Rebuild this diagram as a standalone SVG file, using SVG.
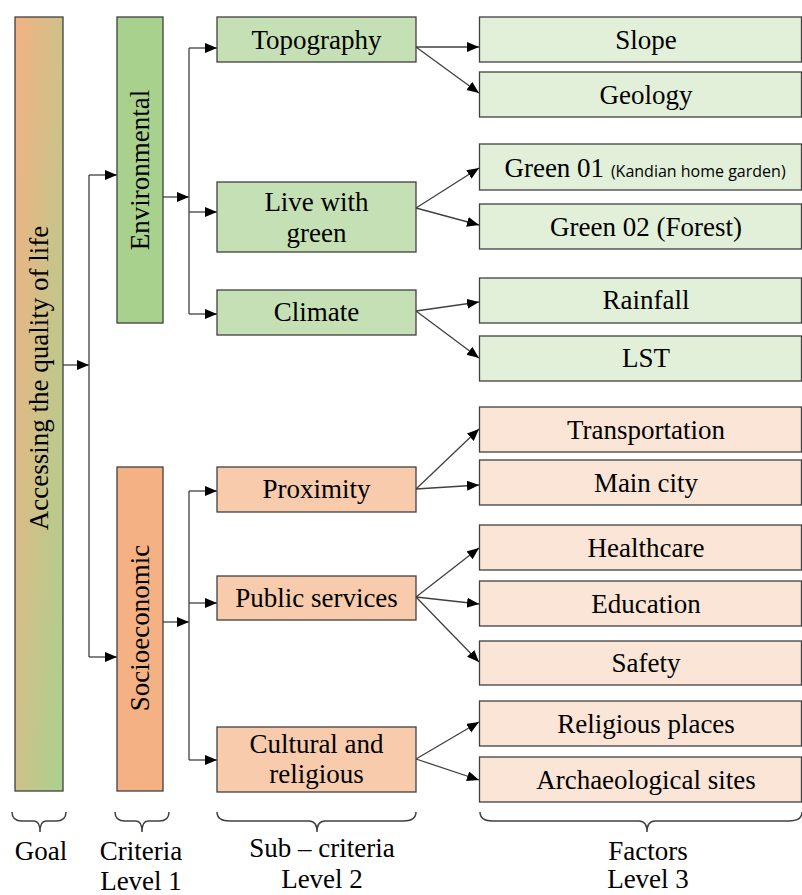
<svg xmlns="http://www.w3.org/2000/svg" width="802" height="895" viewBox="0 0 802 895">
<defs>
<linearGradient id="goalGrad" x1="0" y1="0" x2="1" y2="1">
<stop offset="0" stop-color="#F4B183"/>
<stop offset="1" stop-color="#A9D18E"/>
</linearGradient>
<marker id="arr" markerUnits="userSpaceOnUse" markerWidth="13" markerHeight="11" refX="12" refY="5" orient="auto">
<path d="M0,0 L12,5 L0,10 z" fill="#000"/>
</marker>
<style>
.box{stroke:#404040;stroke-width:1.3}
.g1{fill:#A9D18E}.g2{fill:#C5E0B4}.g3{fill:#E2F0D9}
.o1{fill:#F4B183}.o2{fill:#F8CBAD}.o3{fill:#FBE5D6}
.t{font-family:"Liberation Serif","Times New Roman",serif;font-size:27px;fill:#000;text-anchor:middle}
.s{font-family:"Open Sans","Noto Sans",sans-serif;font-size:16px}
.c{fill:none;stroke:#404040;stroke-width:1.3}
.a{marker-end:url(#arr)}
.br{fill:none;stroke:#404040;stroke-width:1.5}
</style>
</defs>
<rect width="802" height="895" fill="#fff"/>

<g id="connectors">
<path class="c a" d="M63,365 H89"/>
<path class="c" d="M89,175 V657"/>
<path class="c a" d="M89,175 H117"/>
<path class="c a" d="M89,657 H117"/>
<path class="c a" d="M163,197 H189"/>
<path class="c" d="M189,48 V314"/>
<path class="c a" d="M189,48 H217"/>
<path class="c a" d="M189,212 H217"/>
<path class="c a" d="M189,314 H217"/>
<path class="c a" d="M163,622 H189"/>
<path class="c" d="M189,491 V760"/>
<path class="c a" d="M189,491 H217"/>
<path class="c a" d="M189,603 H217"/>
<path class="c a" d="M189,760 H217"/>
<path class="c a" d="M416,47 L479,47"/>
<path class="c a" d="M416,47 L479,93"/>
<path class="c a" d="M416,208 L479,168"/>
<path class="c a" d="M416,208 L479,225"/>
<path class="c a" d="M416,311 L479,302"/>
<path class="c a" d="M416,311 L479,358"/>
<path class="c a" d="M416,489 L479,429"/>
<path class="c a" d="M416,489 L479,485"/>
<path class="c a" d="M416,597 L479,548"/>
<path class="c a" d="M416,597 L479,604"/>
<path class="c a" d="M416,597 L479,662"/>
<path class="c a" d="M416,759 L479,722"/>
<path class="c a" d="M416,759 L479,780"/>
</g>

<g id="goal">
<rect class="box" x="15" y="17" width="48" height="774" fill="url(#goalGrad)"/>
<text class="t" transform="translate(48,378) rotate(-90)">Accessing the quality of life</text>
</g>

<g id="environmental">
<rect class="box g1" x="117" y="17" width="46" height="306"/>
<text class="t" transform="translate(149,170) rotate(-90)">Environmental</text>
</g>
<g id="socioeconomic">
<rect class="box o1" x="117" y="467" width="46" height="324"/>
<text class="t" transform="translate(149,628) rotate(-90)">Socioeconomic</text>
</g>

<g id="topography">
<rect class="box g2" x="217" y="17" width="199" height="45"/>
<text class="t" x="316.5" y="49">Topography</text>
</g>
<g id="live-with-green">
<rect class="box g2" x="217" y="182" width="199" height="70"/>
<text class="t" x="316.5" y="211">Live with</text>
<text class="t" x="316.5" y="242">green</text>
</g>
<g id="climate">
<rect class="box g2" x="217" y="290" width="199" height="45"/>
<text class="t" x="316.5" y="321">Climate</text>
</g>
<g id="proximity">
<rect class="box o2" x="217" y="467" width="199" height="45"/>
<text class="t" x="316.5" y="498">Proximity</text>
</g>
<g id="public-services">
<rect class="box o2" x="217" y="576" width="199" height="44"/>
<text class="t" x="316.5" y="607">Public services</text>
</g>
<g id="cultural-religious">
<rect class="box o2" x="217" y="727" width="199" height="65"/>
<text class="t" x="316.5" y="753">Cultural and</text>
<text class="t" x="316.5" y="783">religious</text>
</g>

<g id="slope">
<rect class="box g3" x="479.5" y="17" width="322" height="45"/>
<text class="t" x="646" y="49">Slope</text>
</g>
<g id="geology">
<rect class="box g3" x="479.5" y="72" width="322" height="45"/>
<text class="t" x="646" y="104">Geology</text>
</g>
<g id="green01">
<rect class="box g3" x="479.5" y="144" width="322" height="46"/>
<text class="t" x="645" y="177">Green 01 <tspan class="s">(Kandian home garden)</tspan></text>
</g>
<g id="green02">
<rect class="box g3" x="479.5" y="204" width="322" height="45"/>
<text class="t" x="646" y="236">Green 02 (Forest)</text>
</g>
<g id="rainfall">
<rect class="box g3" x="479.5" y="278" width="322" height="45"/>
<text class="t" x="646" y="309">Rainfall</text>
</g>
<g id="lst">
<rect class="box g3" x="479.5" y="336" width="322" height="45"/>
<text class="t" x="646" y="367">LST</text>
</g>
<g id="transportation">
<rect class="box o3" x="479.5" y="407" width="322" height="45"/>
<text class="t" x="646" y="439">Transportation</text>
</g>
<g id="main-city">
<rect class="box o3" x="479.5" y="460" width="322" height="45"/>
<text class="t" x="646" y="492">Main city</text>
</g>
<g id="healthcare">
<rect class="box o3" x="479.5" y="525" width="322" height="45"/>
<text class="t" x="646" y="557">Healthcare</text>
</g>
<g id="education">
<rect class="box o3" x="479.5" y="581" width="322" height="45"/>
<text class="t" x="646" y="613">Education</text>
</g>
<g id="safety">
<rect class="box o3" x="479.5" y="641" width="322" height="44"/>
<text class="t" x="646" y="672">Safety</text>
</g>
<g id="religious-places">
<rect class="box o3" x="479.5" y="701" width="322" height="45"/>
<text class="t" x="646" y="733">Religious places</text>
</g>
<g id="archaeological-sites">
<rect class="box o3" x="479.5" y="757" width="322" height="45"/>
<text class="t" x="646" y="789">Archaeological sites</text>
</g>

<g id="braces">
<path class="br" d="M12,812 Q12,821 22,821 H34 Q40,821 40,832 Q40,821 46,821 H56 Q66,821 66,812"/>
<path class="br" d="M115,812 Q115,821 125,821 H136 Q142,821 142,832 Q142,821 148,821 H159 Q169,821 169,812"/>
<path class="br" d="M217,812 Q217,821 230,821 H309 Q317,821 317,832 Q317,821 325,821 H403 Q416,821 416,812"/>
<path class="br" d="M480,812 Q480,821 493,821 H639 Q647,821 647,832 Q647,821 655,821 H789 Q802,821 802,812"/>
</g>

<g id="labels">
<text class="t" x="41" y="860">Goal</text>
<text class="t" x="141" y="860">Criteria</text>
<text class="t" x="141" y="890">Level 1</text>
<text class="t" x="322" y="857">Sub – criteria</text>
<text class="t" x="322" y="888">Level 2</text>
<text class="t" x="648" y="860">Factors</text>
<text class="t" x="648" y="888">Level 3</text>
</g>
</svg>
